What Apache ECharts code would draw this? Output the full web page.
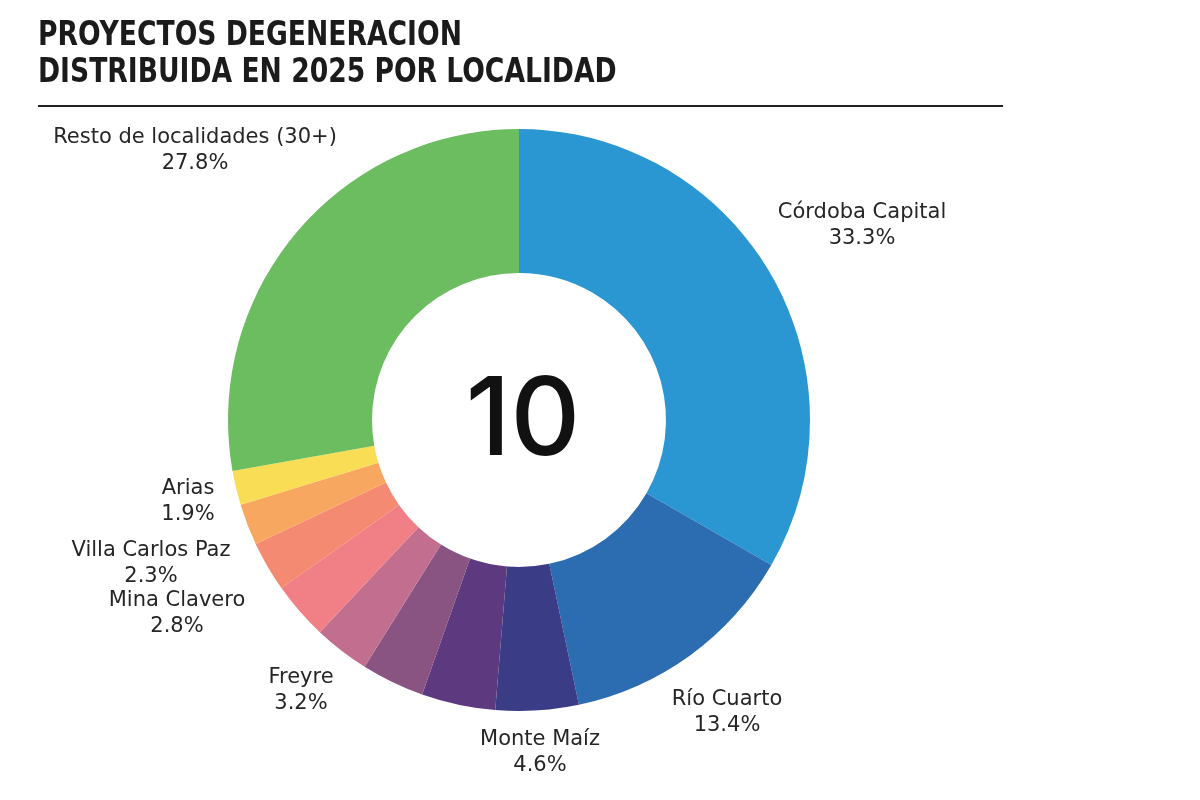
<!DOCTYPE html>
<html>
<head>
<meta charset="utf-8">
<script src="https://cdn.jsdelivr.net/npm/echarts@6/dist/echarts.min.js"></script>
<style>
  html, body { margin: 0; padding: 0; background: #fff; }
  #box1 { width: 1200px; height: 800px; }
</style>
</head>
<body>
<div id="box1"></div>
<script>
// datos (porcentaje por localidad, sentido horario desde arriba)
const aLocalidades = ['Córdoba Capital', 'Río Cuarto', 'Monte Maíz', '', '', '', 'Freyre', 'Mina Clavero', 'Villa Carlos Paz', 'Arias', 'Resto de localidades (30+)'];
const aPorcentajes = [33.3, 13.4, 4.6, 4.1, 3.5, 3.1, 3.2, 2.8, 2.3, 1.9, 27.8];
const aColores = ['#2a97d3', '#2c6db2', '#3a3c86', '#5d3a7f', '#8a5482', '#c26f8f', '#f17f86', '#f58a72', '#f7a75f', '#f8dd55', '#6bbd5f'];
const aTitulo = ['PROYECTOS DEGENERACION', 'DISTRIBUIDA EN 2025 POR LOCALIDAD'];
const sTotal = '10';

// posiciones de las etiquetas (centro del bloque de texto)
const oLabelPos = {
    0: [862, 226],
    1: [727, 713],
    2: [540, 753],
    6: [301, 691],
    7: [177, 614],
    8: [151, 564],
    9: [188, 502],
    10: [195, 151],
};

const cx = 519, cy = 420;
const sFont = '"DejaVu Sans", Inter, sans-serif';

const myChart = echarts.init(document.getElementById('box1'));

const data = aLocalidades.map((name, i) => ({
    name,
    value: aPorcentajes[i],
    itemStyle: { color: aColores[i] },
    label: { show: name !== '' },
}));

const oTitleStyle = {
    fontFamily: '"DejaVu Sans Condensed", "DejaVu Sans", sans-serif',
    fontWeight: 'bold',
    fontSize: 34,
    fill: '#1b1b1b',
    verticalAlign: 'middle',
};

const option = {
    backgroundColor: '#fff',
    animation: false,
    graphic: [
        // título condensado a mano (scaleX)
        ...aTitulo.map((txt, i) => ({
            type: 'text',
            x: 38,
            y: 36 + i * 37,
            scaleX: 0.87,
            style: { text: txt, ...oTitleStyle },
        })),
        {
            type: 'line',
            shape: { x1: 38, y1: 106, x2: 1003, y2: 106 },
            style: { stroke: '#222', lineWidth: 2 },
        },
        {
            type: 'text',
            x: cx + 4,
            y: cy + 3,
            style: {
                text: sTotal,
                fontFamily: 'Inter, "Noto Sans", sans-serif',
                fontWeight: 500,
                fontSize: 108,
                fill: '#111',
                align: 'center',
                verticalAlign: 'middle',
            },
        },
    ],
    series: [{
        type: 'pie',
        center: [cx, cy],
        radius: [147, 291],
        startAngle: 90,
        clockwise: true,
        avoidLabelOverlap: false,
        data,
        label: {
            position: 'outside',
            formatter: p => `${p.name}\n${p.value.toFixed(1)}%`,
            fontFamily: sFont,
            fontSize: 21,
            lineHeight: 26,
            color: '#262626',
            align: 'center',
        },
        labelLine: { show: false },
        labelLayout: params => {
            const pos = oLabelPos[params.dataIndex];
            if (!pos) return {};
            return { x: pos[0], y: pos[1], align: 'center', verticalAlign: 'middle' };
        },
        emphasis: { disabled: true },
    }],
};
myChart.setOption(option);
</script>
</body>
</html>
